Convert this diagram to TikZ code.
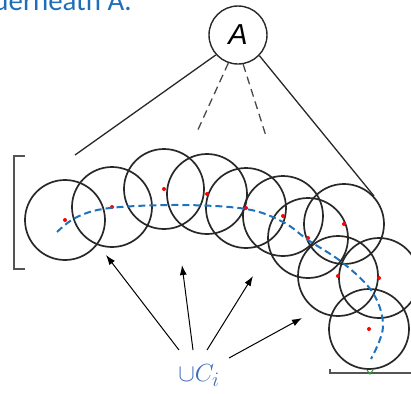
\documentclass[tikz,border=0pt]{standalone}
\usepackage{fontspec}
\newfontfamily\headfont{Carlito}
\newfontfamily\rootfont{Liberation Sans}
\usetikzlibrary{arrows.meta}
\definecolor{inkgray}{RGB}{40,40,40}
\definecolor{framegray}{RGB}{85,85,85}
\definecolor{pathblue}{RGB}{30,115,190}
\definecolor{labelblue}{RGB}{60,110,190}
\definecolor{headblue}{RGB}{30,110,185}
\definecolor{markgreen}{RGB}{40,160,60}

\begin{document}
\begin{tikzpicture}[x=1bp,y=-1bp,
  cover/.style={draw=inkgray, line width=1.7bp, circle, minimum size=80bp, inner sep=0pt},
  rootnode/.style={draw=inkgray, line width=1.4bp, circle, minimum size=58bp, inner sep=0pt,
                   font=\rootfont\itshape\fontsize{29}{29}\selectfont},
  centre/.style={fill=red, circle, inner sep=0pt, minimum size=4bp},
  edge/.style={draw=inkgray, line width=1.3bp},
  guess/.style={draw=inkgray!85, line width=1.3bp, dash pattern=on 8bp off 5bp},
  walk/.style={draw=pathblue, line width=2bp, dash pattern=on 7bp off 4bp},
  bracket/.style={draw=framegray, line width=1.9bp},
  pointer/.style={draw=black, line width=1bp, -{Latex[length=10bp,width=7bp]}}]

\useasboundingbox (0,0) rectangle (411,394);
\clip (0,0) rectangle (411,394);

% caption line running off the top edge
\node[anchor=base east, text=headblue, font=\headfont\fontsize{29}{29}\selectfont, inner sep=0pt]
  (head) at (132,10.5) {underneath A.};

% root of the cover tree
\node[rootnode] (A) at (238,35) {A};

% the chain of covering balls
\node[cover] (c1)  at (65,220)  {};
\node[cover] (c2)  at (112,207) {};
\node[cover] (c3)  at (164,189) {};
\node[cover] (c4)  at (207,194) {};
\node[cover] (c5)  at (246,208) {};
\node[cover] (c6)  at (283,216) {};
\node[cover] (c7)  at (308,238) {};
\node[cover] (c8)  at (344,224) {};
\node[cover] (c9)  at (338,276) {};
\node[cover] (c10) at (379,278) {};
\node[cover] (c11) at (369,329) {};

% ball centres
\foreach \c in {c1,c2,c3,c4,c5,c6,c7,c8,c9,c10,c11}
  \node[centre] at (\c.center) {};

% the path being covered
\draw[walk] plot[smooth, tension=0.6] coordinates
  {(57,232) (77,217) (110,208) (180,205) (246,209) (283,222) (308,240)
   (343,263) (373,293) (383,327) (371,359)};

% edges from the root
\coordinate (la) at (75,155);
\coordinate (lb) at (196,134);
\coordinate (lc) at (266,136);
\coordinate (ld) at (374,196);
\draw[edge]  (A.222) -- (la);
\draw[guess] (A.251) -- (lb);
\draw[guess] (A.280) -- (lc);
\draw[edge]  (A.316) -- (ld);

% side bracket and base line
\draw[bracket] (25,156) -- (14,156) -- (14,269) -- (25,269);
\draw[bracket] (330,369) -- (330,373) -- (411,373);
\draw[markgreen, line width=1bp] (367,370) -- (370,374) -- (373,370);

% union label and its pointers
\node[text=labelblue, font=\fontsize{31}{31}\selectfont, inner sep=0pt] (U) at (199,376) {$\cup C_i$};
\coordinate (s1) at (179,350);
\coordinate (s2) at (193,350);
\coordinate (s3) at (207,350);
\coordinate (s4) at (229,358);
\coordinate (t1) at (106,255);
\coordinate (t2) at (182,265);
\coordinate (t3) at (253,276);
\coordinate (t4) at (302,318);
\draw[pointer] (s1) -- (t1);
\draw[pointer] (s2) -- (t2);
\draw[pointer] (s3) -- (t3);
\draw[pointer] (s4) -- (t4);
\end{tikzpicture}
\end{document}
